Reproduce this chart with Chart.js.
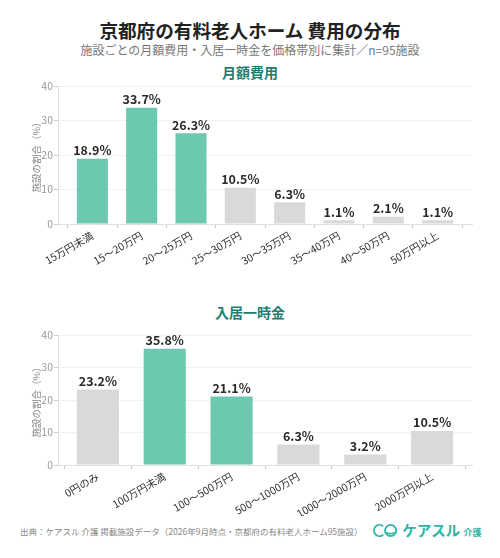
<!DOCTYPE html>
<html>
<head>
<meta charset="utf-8">
<script src="https://cdn.jsdelivr.net/npm/chart.js@4"></script>
<style>
  body { margin: 0; width: 500px; height: 558px; background: #fff; position: relative; overflow: hidden;
         font-family: "Noto Sans CJK JP", "Noto Sans", sans-serif; }
  .title { position: absolute; top: 16px; left: 0; width: 500px; text-align: center; font-size: 18.6px; font-weight: bold; color: #222; }
  .subtitle { position: absolute; top: 41px; left: 0; width: 500px; text-align: center; font-size: 12px; color: #777; }
  .section { position: absolute; left: 0; width: 500px; text-align: center; font-size: 14px; font-weight: bold; color: #1f7f6e; }
  .box { position: absolute; left: 0; width: 500px; }
  .footer { position: absolute; top: 525px; left: 20px; font-size: 8.5px; color: #888; }
  .logo { position: absolute; top: 519px; left: 373px; font-size: 14.5px; font-weight: bold; color: #2bb5a6; white-space: nowrap; }
  .logo small { font-size: 9px; }
</style>
</head>
<body>
<div class="title">京都府の有料老人ホーム 費用の分布</div>
<div class="subtitle">施設ごとの月額費用・入居一時金を価格帯別に集計／n=95施設</div>
<div class="section" style="top:62px">月額費用</div>
<div class="box" style="top:78px;height:196px"><canvas id="monthly"></canvas></div>
<div class="section" style="top:302px">入居一時金</div>
<div class="box" style="top:326px;height:190px"><canvas id="entry"></canvas></div>
<div class="footer">出典：ケアスル 介護 掲載施設データ（2026年9月時点・京都府の有料老人ホーム95施設）</div>
<div class="logo"><svg width="26" height="15" viewBox="0 0 28 16" style="vertical-align:-2px"><path d="M11 3.5 A6 6 0 1 0 11 12.5" fill="none" stroke="#2bb5a6" stroke-width="2"/><circle cx="19" cy="8" r="6" fill="none" stroke="#2bb5a6" stroke-width="2"/><path d="M15 10 Q19 13 23 10" fill="none" stroke="#2bb5a6" stroke-width="1.6"/></svg> ケアスル <small>介護</small></div>

<script>
// Monthly fee distribution
const monthlyLabels = ["15万円未満", "15〜20万円", "20〜25万円", "25〜30万円", "30〜35万円", "35〜40万円", "40〜50万円", "50万円以上"];
const monthlyValues = [18.9, 33.7, 26.3, 10.5, 6.3, 1.1, 2.1, 1.1];
const monthlyHighlight = [true, true, true, false, false, false, false, false];

// Entry fee distribution
const entryLabels = ["0円のみ", "100万円未満", "100〜500万円", "500〜1000万円", "1000〜2000万円", "2000万円以上"];
const entryValues = [23.2, 35.8, 21.1, 6.3, 3.2, 10.5];
const entryHighlight = [false, true, true, false, false, false];

const yTicks = [0, 10, 20, 30, 40];

const TEAL = "#6dc8b0";
const GRAY = "#d9d9d9";
const FONT = '"Noto Sans CJK JP", "Noto Sans", sans-serif';
const BAR_W = 0.63;

// draws value labels above bars
const valueLabels = {
    id: "valueLabels",
    afterDatasetsDraw(chart) {
        const ctx = chart.ctx;
        const meta = chart.getDatasetMeta(0);
        ctx.save();
        ctx.font = "bold 12.5px " + FONT;
        ctx.fillStyle = "#2a2a2a";
        ctx.textAlign = "center";
        ctx.textBaseline = "bottom";
        meta.data.forEach((bar, i) => {
            ctx.fillText(chart.data.datasets[0].data[i].y.toFixed(1) + "%", bar.x, bar.y - 2);
        });
        ctx.restore();
    }
};

function makeChart(id, labels, values, highlight, padTop, xHeight) {
    const n = labels.length;
    // 5% side margins around the outer bar edges
    const margin = 0.05 * (n - 1 + BAR_W);
    return new Chart(document.getElementById(id), {
        type: "bar",
        data: {
            datasets: [{
                data: values.map((v, i) => ({ x: i, y: v })),
                backgroundColor: highlight.map(h => h ? TEAL : GRAY),
                barPercentage: BAR_W,
                categoryPercentage: 1
            }]
        },
        options: {
            responsive: true,
            maintainAspectRatio: false,
            animation: false,
            layout: { padding: { left: 31, right: 28, top: padTop, bottom: 0 } },
            plugins: { legend: { display: false }, tooltip: { enabled: false } },
            scales: {
                x: {
                    type: "linear",
                    offset: false,
                    min: -BAR_W / 2 - margin,
                    max: n - 1 + BAR_W / 2 + margin,
                    afterFit: axis => { axis.height = xHeight; },
                    afterBuildTicks: axis => { axis.ticks = labels.map((_, i) => ({ value: i })); },
                    grid: { drawOnChartArea: false, tickLength: 4, color: "#cccccc" },
                    border: { color: "#e0e0e0" },
                    ticks: {
                        autoSkip: false,
                        callback: v => labels[v],
                        color: "#333", font: { size: 10.5, family: FONT },
                        maxRotation: 30, minRotation: 30, padding: 1
                    }
                },
                y: {
                    min: 0, max: 40,
                    afterFit: axis => { axis.width = 27; },
                    afterBuildTicks: axis => { axis.ticks = yTicks.map(v => ({ value: v })); },
                    grid: { color: "#f2f2f2", tickLength: 4, tickColor: "#cccccc" },
                    border: { color: "#e0e0e0" },
                    ticks: { color: "#999", font: { size: 10.5, family: FONT }, padding: 1 },
                    title: { display: true, text: "施設の割合（%）", color: "#888", font: { size: 9.5, family: FONT }, padding: { top: 0, bottom: 0 } }
                }
            }
        },
        plugins: [valueLabels]
    });
}

makeChart("monthly", monthlyLabels, monthlyValues, monthlyHighlight, 8, 50);
makeChart("entry", entryLabels, entryValues, entryHighlight, 9, 51);
</script>
</body>
</html>
